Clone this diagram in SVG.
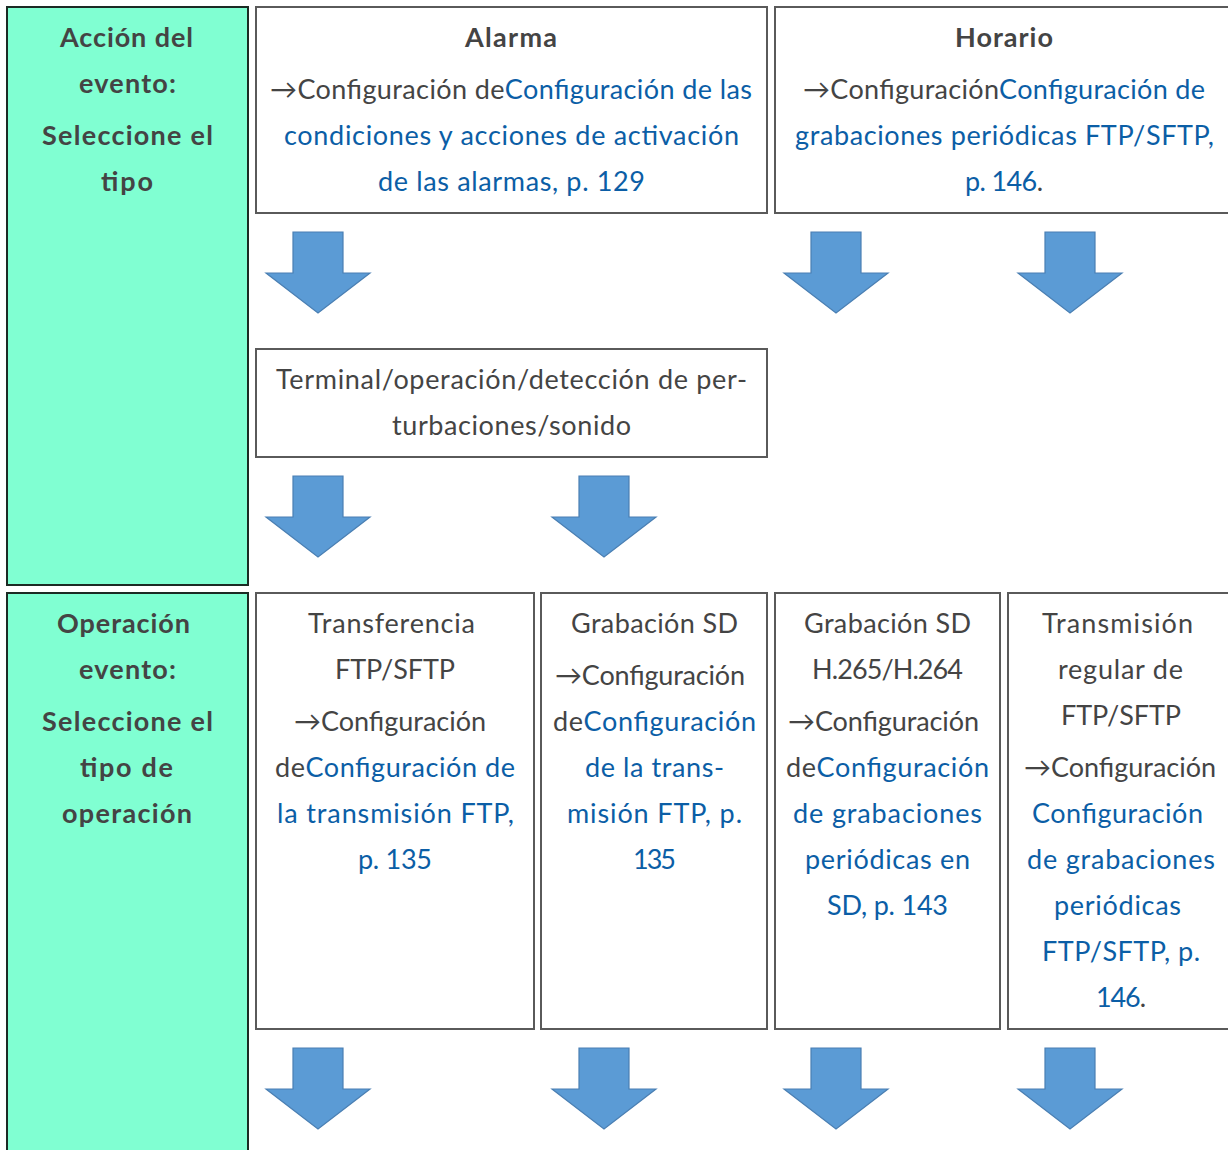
<svg xmlns="http://www.w3.org/2000/svg" width="1228" height="1150" viewBox="0 0 1228 1150">
<defs>
<style>
text{font-family:Lato,"Liberation Sans",sans-serif;font-size:27px;fill:#444;lengthAdjust:spacing}
.b{font-weight:bold}
.l{fill:#0b5ea6}
.g{fill:#80ffd2;stroke:#1c2b24;stroke-width:2}
.w{fill:#fff;stroke:#5a5a5a;stroke-width:2}
.arr{fill:#5b9bd5;stroke:#4a7fb3;stroke-width:1.2}
</style>
<path id="ar" d="M-25,0 H25 V41 H52 L0,81 L-52,41 H-25 Z"/>
</defs>
<rect width="1228" height="1150" fill="#fff"/>
<g id="accion">
<rect class="g" x="7" y="7" width="241" height="578"/>
<text class="b" x="60" y="47" textLength="133">Acción del</text>
<text class="b" x="79" y="93" textLength="97">evento:</text>
<text class="b" x="42" y="145" textLength="171">Seleccione el</text>
<text class="b" x="101" y="191" textLength="52">tipo</text>
</g>
<g id="alarma">
<rect class="w" x="256" y="7" width="511" height="206"/>
<text class="b" x="465" y="47" textLength="92">Alarma</text>
<text x="270" y="99" textLength="482">→Configuración de<tspan class="l">Configuración de las</tspan></text>
<text class="l" x="284" y="145" textLength="455">condiciones y acciones de activación</text>
<text class="l" x="378" y="191" textLength="267">de las alarmas, p. 129</text>
</g>
<g id="horario">
<rect class="w" x="775" y="7" width="470" height="206"/>
<text class="b" x="955" y="47" textLength="98">Horario</text>
<text x="803" y="99" textLength="402">→Configuración<tspan class="l">Configuración de</tspan></text>
<text class="l" x="795" y="145" textLength="419">grabaciones periódicas FTP/SFTP,</text>
<text x="965" y="191" textLength="78"><tspan class="l">p. 146</tspan>.</text>
</g>
<g id="terminal">
<rect class="w" x="256" y="349" width="511" height="108"/>
<text x="276" y="389" textLength="471">Terminal/operación/detección de per-</text>
<text x="392" y="435" textLength="239">turbaciones/sonido</text>
</g>
<g id="operacion">
<rect class="g" x="7" y="593" width="241" height="570"/>
<text class="b" x="57" y="633" textLength="133">Operación</text>
<text class="b" x="79" y="679" textLength="97">evento:</text>
<text class="b" x="42" y="731" textLength="171">Seleccione el</text>
<text class="b" x="80" y="777" textLength="93">tipo de</text>
<text class="b" x="62" y="823" textLength="130">operación</text>
</g>
<g id="ftp">
<rect class="w" x="256" y="593" width="278" height="436"/>
<text x="308" y="633" textLength="167">Transferencia</text>
<text x="335" y="679" textLength="120">FTP/SFTP</text>
<text x="294" y="731" textLength="192">→Configuración</text>
<text x="275" y="777" textLength="240">de<tspan class="l">Configuración de</tspan></text>
<text class="l" x="277" y="823" textLength="237">la transmisión FTP,</text>
<text class="l" x="358" y="869" textLength="74">p. 135</text>
</g>
<g id="sd">
<rect class="w" x="541" y="593" width="226" height="436"/>
<text x="571" y="633" textLength="167">Grabación SD</text>
<text x="555" y="685" textLength="190">→Configuración</text>
<text x="553" y="731" textLength="203">de<tspan class="l">Configuración</tspan></text>
<text class="l" x="585" y="777" textLength="139">de la trans-</text>
<text class="l" x="567" y="823" textLength="175">misión FTP, p.</text>
<text class="l" x="633" y="869" textLength="43">135</text>
</g>
<g id="sd-h265">
<rect class="w" x="775" y="593" width="225" height="436"/>
<text x="804" y="633" textLength="167">Grabación SD</text>
<text x="812" y="679" textLength="151">H.265/H.264</text>
<text x="788" y="731" textLength="191">→Configuración</text>
<text x="786" y="777" textLength="203">de<tspan class="l">Configuración</tspan></text>
<text class="l" x="793" y="823" textLength="189">de grabaciones</text>
<text class="l" x="805" y="869" textLength="165">periódicas en</text>
<text class="l" x="827" y="915" textLength="121">SD, p. 143</text>
</g>
<g id="regular">
<rect class="w" x="1008" y="593" width="240" height="436"/>
<text x="1042" y="633" textLength="151">Transmisión</text>
<text x="1058" y="679" textLength="125">regular de</text>
<text x="1061" y="725" textLength="120">FTP/SFTP</text>
<text x="1024" y="777" textLength="192">→Configuración</text>
<text class="l" x="1032" y="823" textLength="171">Configuración</text>
<text class="l" x="1027" y="869" textLength="188">de grabaciones</text>
<text class="l" x="1054" y="915" textLength="127">periódicas</text>
<text class="l" x="1042" y="961" textLength="158">FTP/SFTP, p.</text>
<text x="1096" y="1007" textLength="50"><tspan class="l">146</tspan>.</text>
</g>
<g id="connectors" class="arr">
<use href="#ar" x="318" y="232"/>
<use href="#ar" x="836" y="232"/>
<use href="#ar" x="1070" y="232"/>
<use href="#ar" x="318" y="476"/>
<use href="#ar" x="604" y="476"/>
<use href="#ar" x="318" y="1048"/>
<use href="#ar" x="604" y="1048"/>
<use href="#ar" x="836" y="1048"/>
<use href="#ar" x="1070" y="1048"/>
</g>
</svg>
